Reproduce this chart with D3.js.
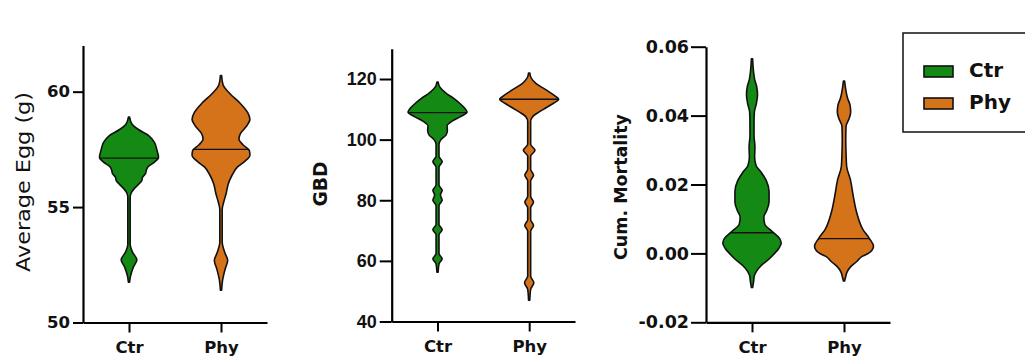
<!DOCTYPE html>
<html>
<head>
<meta charset="utf-8">
<script src="https://cdn.jsdelivr.net/npm/d3@7"></script>
<style>
  html, body { margin: 0; padding: 0; background: #ffffff; }
  svg { display: block; }
</style>
</head>
<body>
<svg id="chart" width="1025" height="358"></svg>
<script>
// Groups compared in every panel
const groups = ["Ctr", "Phy"];
const groupColors = ["#148a14", "#d5731b"];

// Axis ticks for each panel
const eggTicks = [50, 55, 60];
const gbdTicks = [40, 60, 80, 100, 120];
const mortTicks = [-0.02, 0.00, 0.02, 0.04, 0.06];

// Violin density profiles: [value, relative density]
const eggCtrProfile = [
  [51.75, 0], [52.0, 0.03], [52.4, 0.13], [52.72, 0.25], [53.05, 0.1], [53.4, 0.02],
  [55.4, 0.02], [55.6, 0.05], [55.8, 0.16], [56.0, 0.32], [56.15, 0.42], [56.3, 0.45],
  [56.45, 0.55], [56.6, 0.58], [56.75, 0.64], [56.95, 0.86], [57.15, 1.0], [57.5, 0.94],
  [57.8, 0.86], [58.1, 0.66], [58.35, 0.32], [58.6, 0.08], [58.9, 0]
];
const eggPhyProfile = [
  [51.4, 0], [51.8, 0.03], [52.3, 0.12], [52.7, 0.21], [53.0, 0.12], [53.5, 0.02],
  [54.9, 0.02], [55.2, 0.07], [55.6, 0.16], [56.0, 0.23], [56.4, 0.37], [56.75, 0.56],
  [57.0, 0.82], [57.25, 0.98], [57.45, 0.96], [57.7, 0.74], [57.95, 0.6], [58.2, 0.66],
  [58.5, 0.86], [58.8, 0.98], [59.1, 0.9], [59.5, 0.64], [59.9, 0.3], [60.3, 0.05], [60.7, 0]
];
const gbdCtrProfile = [
  [56.3, 0], [59.0, 0.03], [60.7, 0.14], [62.4, 0.03],
  [68.6, 0.03], [70.3, 0.14], [72.0, 0.03],
  [78.3, 0.03], [80.0, 0.14], [81.7, 0.08], [83.3, 0.14], [85.0, 0.03],
  [91.0, 0.03], [92.7, 0.14], [94.5, 0.03],
  [98.5, 0.03], [100.0, 0.1], [101.5, 0.27], [103.0, 0.32], [104.5, 0.31], [106.0, 0.47],
  [107.5, 0.76], [109.0, 1.0], [111.5, 0.8], [113.5, 0.55], [115.5, 0.25], [117.5, 0.05], [119.0, 0]
];
const gbdPhyProfile = [
  [47.0, 0], [50.6, 0.03], [52.8, 0.14], [55.0, 0.03],
  [69.8, 0.03], [71.7, 0.13], [73.6, 0.03],
  [77.5, 0.03], [79.4, 0.13], [81.3, 0.03],
  [86.4, 0.03], [88.3, 0.13], [90.2, 0.03],
  [94.5, 0.03], [96.5, 0.18], [98.5, 0.03],
  [106.0, 0.03], [107.5, 0.09], [109.0, 0.3], [110.5, 0.56], [112.0, 0.82], [113.3, 1.0],
  [114.5, 0.86], [116.5, 0.55], [118.5, 0.22], [120.5, 0.04], [122.0, 0]
];
const mortCtrProfile = [
  [-0.0099, 0], [-0.0085, 0.03], [-0.0065, 0.06], [-0.005, 0.15], [-0.0035, 0.3],
  [-0.0017, 0.56], [0.0, 0.76], [0.0015, 0.91], [0.003, 0.99], [0.0045, 0.92],
  [0.0065, 0.66], [0.0085, 0.42], [0.0105, 0.39], [0.0125, 0.49], [0.015, 0.57],
  [0.018, 0.57], [0.021, 0.48], [0.0235, 0.3], [0.0255, 0.12], [0.028, 0.07],
  [0.031, 0.08], [0.034, 0.05], [0.038, 0.05], [0.041, 0.06], [0.0435, 0.13],
  [0.046, 0.17], [0.0485, 0.14], [0.0505, 0.07], [0.053, 0.03], [0.0565, 0]
];
const mortPhyProfile = [
  [-0.0080, 0], [-0.0070, 0.03], [-0.0055, 0.08], [-0.0037, 0.23], [-0.0025, 0.4],
  [-0.0008, 0.62], [0.0, 0.82], [0.0021, 1.0], [0.0043, 0.86], [0.0070, 0.63],
  [0.0118, 0.42], [0.0166, 0.3], [0.0214, 0.2], [0.0253, 0.07], [0.029, 0.05],
  [0.033, 0.04], [0.0369, 0.05], [0.039, 0.15], [0.041, 0.21], [0.043, 0.19],
  [0.0451, 0.1], [0.047, 0.05], [0.050, 0]
];

// Group medians
const eggMedians = [57.12, 57.5];
const gbdMedians = [108.9, 113.3];
const mortMedians = [0.0060, 0.0043];

const svg = d3.select("#chart");
const maxHalfWidth = 29.5;
const halfWidth = d3.scaleLinear().domain([0, 1]).range([0.6, maxHalfWidth]);

const panels = [
  {
    id: "egg", title: "Average  Egg (g)", titleBold: false, titleSize: 19, titleLength: 180,
    titleX: 30, titleY: 182,
    x0: 83, x1: 267, yTop: 45.5, yBottom: 322.5, domain: [50, 62],
    ticks: eggTicks, fmt: d => d3.format("d")(d),
    tickFont: "'DejaVu Sans', sans-serif", tickSize: 16.5, tickLen: 10, tickPad: 3,
    profiles: [eggCtrProfile, eggPhyProfile], medians: eggMedians
  },
  {
    id: "gbd", title: "GBD", titleBold: true, titleSize: 19, titleLength: 45,
    titleX: 327, titleY: 184,
    x0: 391.7, x1: 575, yTop: 48.7, yBottom: 321.5, domain: [40, 130],
    ticks: gbdTicks, fmt: d => d3.format("d")(d),
    tickFont: "'Liberation Sans', Arial, sans-serif", tickSize: 18, tickLen: 12, tickPad: 3,
    profiles: [gbdCtrProfile, gbdPhyProfile], medians: gbdMedians
  },
  {
    id: "mort", title: "Cum. Mortality", titleBold: true, titleSize: 17, titleLength: 146,
    titleX: 627, titleY: 187,
    x0: 706, x1: 890, yTop: 46.7, yBottom: 322.3, domain: [-0.02, 0.06],
    ticks: mortTicks, fmt: d => d.toFixed(2),
    tickFont: "'DejaVu Sans', sans-serif", tickSize: 17.5, tickLen: 15, tickPad: 2,
    profiles: [mortCtrProfile, mortPhyProfile], medians: mortMedians
  }
];

panels.forEach(p => {
  const g = svg.append("g").attr("class", "panel-" + p.id);

  const y = d3.scaleLinear().domain(p.domain).range([p.yBottom, p.yTop]);
  const x = d3.scalePoint().domain(groups).range([p.x0, p.x1]).padding(0.5);

  // Violins
  const area = d3.area()
    .curve(d3.curveMonotoneY)
    .y(d => y(d[0]));

  groups.forEach((grp, i) => {
    const cx = x(grp);
    const violin = area
      .x0(d => cx - halfWidth(d[1]))
      .x1(d => cx + halfWidth(d[1]));
    const pathD = violin(p.profiles[i]);
    const clipId = `clip-${p.id}-${grp}`;

    g.append("clipPath").attr("id", clipId)
      .append("path").attr("d", pathD);

    g.append("path")
      .attr("d", pathD)
      .attr("fill", groupColors[i])
      .attr("stroke", "#111")
      .attr("stroke-width", 1.6)
      .attr("stroke-linejoin", "round");

    // Median line, clipped to the violin outline
    g.append("line")
      .attr("clip-path", `url(#${clipId})`)
      .attr("x1", cx - maxHalfWidth - 5)
      .attr("x2", cx + maxHalfWidth + 5)
      .attr("y1", y(p.medians[i]))
      .attr("y2", y(p.medians[i]))
      .attr("stroke", "#111")
      .attr("stroke-width", 1.4);
  });

  // Y axis
  const yAxis = g.append("g")
    .attr("transform", `translate(${p.x0},0)`)
    .call(d3.axisLeft(y).tickValues(p.ticks).tickFormat(p.fmt)
      .tickSize(p.tickLen).tickSizeOuter(0).tickPadding(p.tickPad));
  yAxis.select(".domain").attr("stroke", "#000").attr("stroke-width", 2.2);
  yAxis.selectAll(".tick line").attr("stroke", "#000").attr("stroke-width", 2);
  yAxis.selectAll(".tick text")
    .attr("fill", "#111")
    .style("font-family", p.tickFont)
    .style("font-weight", "bold")
    .style("font-size", p.tickSize + "px");

  // X axis
  const xAxis = g.append("g")
    .attr("transform", `translate(0,${p.yBottom})`)
    .call(d3.axisBottom(x).tickSize(10).tickSizeOuter(0).tickPadding(9));
  xAxis.select(".domain").attr("stroke", "#000").attr("stroke-width", 2.2);
  xAxis.selectAll(".tick line").attr("stroke", "#000").attr("stroke-width", 2);
  xAxis.selectAll(".tick text")
    .attr("fill", "#111")
    .style("font-family", "'DejaVu Sans', sans-serif")
    .style("font-weight", "bold")
    .style("font-size", "16.5px");

  // Y axis title
  g.append("text")
    .attr("transform", `translate(${p.titleX},${p.titleY}) rotate(-90)`)
    .attr("text-anchor", "middle")
    .attr("textLength", p.titleLength)
    .attr("lengthAdjust", "spacingAndGlyphs")
    .attr("fill", "#111")
    .style("font-family", "'DejaVu Sans', sans-serif")
    .style("font-weight", p.titleBold ? "bold" : "normal")
    .style("font-size", p.titleSize + "px")
    .text(p.title);
});

// Legend
const legend = svg.append("g").attr("class", "legend");
legend.append("rect")
  .attr("x", 903).attr("y", 33).attr("width", 140).attr("height", 99)
  .attr("fill", "#fff").attr("stroke", "#111").attr("stroke-width", 1.5);

groups.forEach((grp, i) => {
  const row = legend.append("g").attr("transform", `translate(924,${66 + i * 32})`);
  row.append("rect")
    .attr("width", 29).attr("height", 11)
    .attr("fill", groupColors[i]).attr("stroke", "#111").attr("stroke-width", 1.6);
  row.append("text")
    .attr("x", 45).attr("y", 11)
    .attr("fill", "#111")
    .style("font-family", "'DejaVu Sans', sans-serif")
    .style("font-weight", "bold")
    .style("font-size", "20px")
    .text(grp);
});
</script>
</body>
</html>
